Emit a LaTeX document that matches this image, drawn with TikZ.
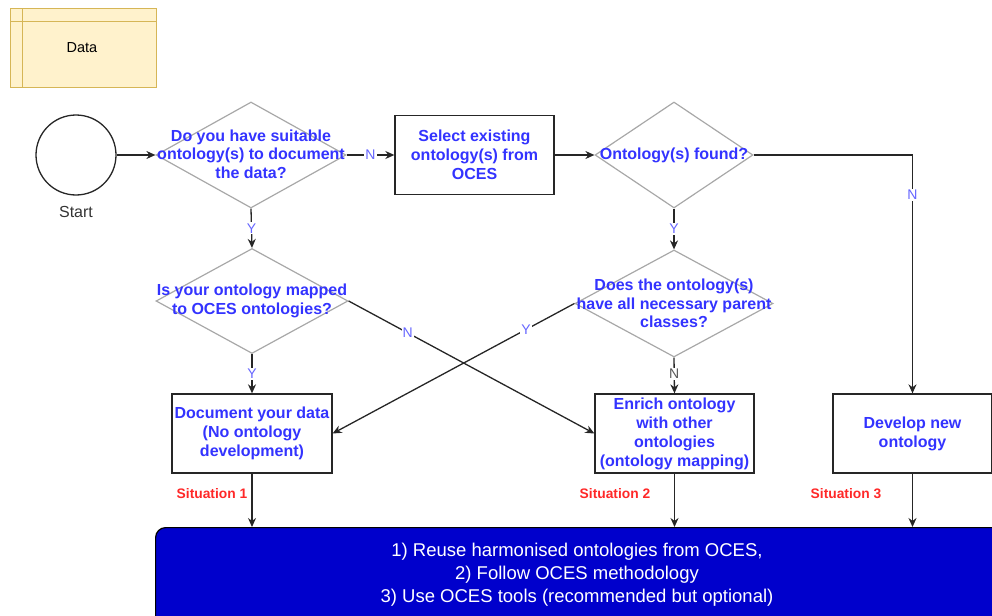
\documentclass[tikz,border=0pt]{standalone}
\usepackage{fontspec}
\setmainfont{Liberation Sans}
\usetikzlibrary{shapes.geometric,arrows.meta}
\definecolor{qblue}{RGB}{51,51,255}
\definecolor{lblue}{RGB}{102,102,255}
\definecolor{diagray}{RGB}{168,168,168}
\definecolor{notefill}{RGB}{255,242,204}
\definecolor{notedraw}{RGB}{214,182,86}
\definecolor{navy}{RGB}{0,0,204}
\definecolor{sitred}{RGB}{255,40,40}
\begin{document}
\begin{tikzpicture}[x=1pt,y=-1pt,
  proc/.style={draw=black!85, line width=1.3pt, fill=white, minimum width=160pt,
    minimum height=79pt, inner sep=0pt, align=center, text=qblue,
    font=\bfseries\fontsize{16}{19}\selectfont},
  dia/.style={diamond, draw=diagray, line width=1.2pt, inner sep=0pt},
  qtext/.style={text=qblue, align=center, inner sep=0pt,
    font=\bfseries\fontsize{16}{18.5}\selectfont},
  arr/.style={draw=black!85, line width=1.3pt, -{Stealth[length=9pt,width=8pt]}},
  elab/.style={fill=white, text=lblue, inner sep=1pt, font=\fontsize{14}{15}\selectfont},
  sit/.style={text=sitred, inner sep=0pt, font=\bfseries\fontsize{13.8}{15}\selectfont},
]
\useasboundingbox (0,0) rectangle (992,615);
\clip (0,0) rectangle (992,615);

% legend swimlane-style data box
\node[draw=notedraw, fill=notefill, line width=1pt, minimum width=146pt, minimum height=79pt,
  inner sep=0pt] (data) at (83,48.5) {};
\draw[notedraw, line width=1pt] (10,22) -- (156,22) (22,9) -- (22,88);
\node[font=\fontsize{14.5}{16}\selectfont] (datatxt) at (82,48) {Data};

% start event
\node[circle, draw=black!85, line width=1.3pt, minimum size=80pt, inner sep=0pt] (start) at (76,155) {};
\node[text=black!80, font=\fontsize{16}{18}\selectfont] (starttxt) at (76,212) {Start};

% decisions
\node[dia, minimum width=190pt, minimum height=106pt] (d1) at (251,155) {};
\node[qtext] (d1t) at (251,154) {Do you have suitable\\ontology(s) to document\\the data?};
\node[dia, minimum width=158pt, minimum height=106pt] (d2) at (674,155) {};
\node[qtext] (d2t) at (d2) {Ontology(s) found?};
\node[dia, minimum width=192pt, minimum height=105pt] (d3) at (252,301) {};
\node[qtext] (d3t) at (d3) {Is your ontology mapped\\to OCES ontologies?};
\node[dia, minimum width=198pt, minimum height=107pt] (d4) at (674,303.5) {};
\node[qtext] (d4t) at (d4) {Does the ontology(s)\\have all necessary parent\\classes?};

% processes
\node[proc, minimum width=159pt] (sel) at (474.5,155) {Select existing\\ontology(s) from\\OCES};
\node[proc] (doc) at (252,433.5) {Document your data\\(No ontology\\development)};
\node[proc, minimum width=159pt] (enr) at (674.5,433.5) {Enrich ontology\\with other\\ontologies\\(ontology mapping)};
\node[proc, minimum width=159pt] (dev) at (912.5,433.5) {Develop new\\ontology};

% common outcome
\node[draw=black, line width=1.2pt, fill=navy, rounded corners=10pt, minimum width=860pt,
  minimum height=110pt, anchor=north west, inner sep=0pt] (out) at (155,527) {};
\node[text=white, align=center, inner sep=0pt,
  font=\fontsize{18.5}{23}\selectfont] (outt) at (577,575)
  {1) Reuse harmonised ontologies from OCES,\\2) Follow OCES methodology\\3) Use OCES tools (recommended but optional)};

% connectors
\draw[arr] (start) -- (d1.west);
\draw[arr] (d1.east) -- node[elab] {N} (sel.west);
\draw[arr] (sel.east) -- (d2.west);
\draw[arr] (d1.south) -- node[elab] {Y} (d3.north);
\draw[arr] (d2.south) -- node[elab] {Y} (d4.north);
\draw[arr] (d2.east) -| node[elab, pos=0.584] {N} (dev.north);
\draw[arr] (d3.south) -- node[elab] {Y} (doc.north);
\draw[arr] (d4.south) -- node[elab, text=black!65, pos=0.45] {N} (enr.north);
\draw[arr] (d3.east) -- node[elab, pos=0.24] {N} (enr.west);
\draw[arr] (d4.west) -- node[elab, pos=0.2] {Y} (doc.east);
\draw[arr] (doc.south) -- (doc.south |- out.north);
\draw[arr] (enr.south) -- (enr.south |- out.north);
\draw[arr] (dev.south) -- (dev.south |- out.north);

% situation tags
\node[sit] (s1) at (212,494) {Situation 1};
\node[sit] (s2) at (615,494) {Situation 2};
\node[sit] (s3) at (846,494) {Situation 3};
\end{tikzpicture}
\end{document}
